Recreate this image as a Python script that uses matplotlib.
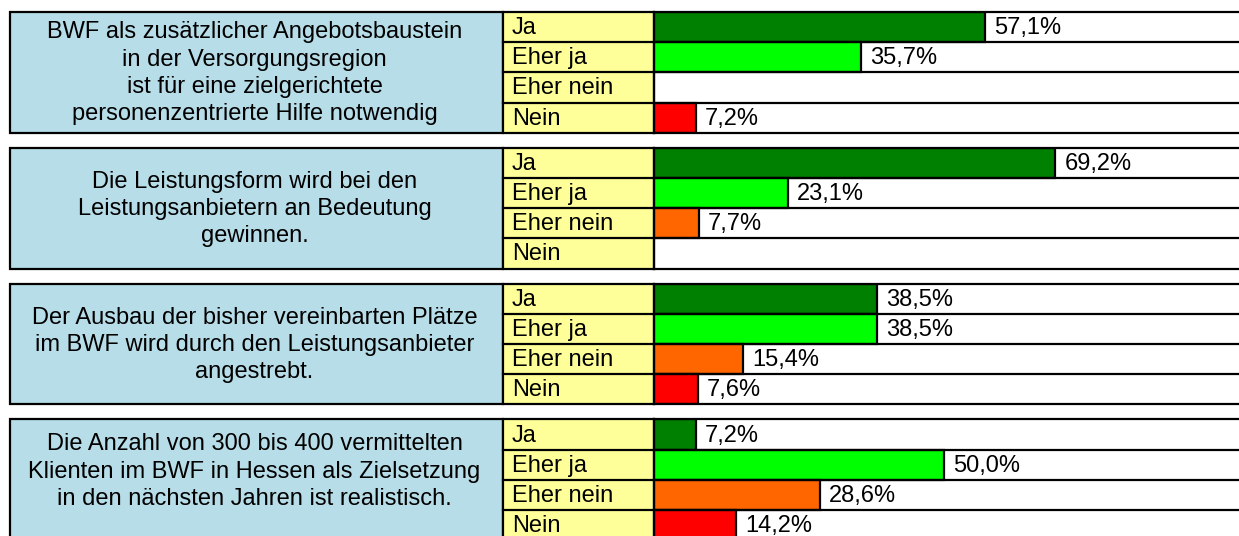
import matplotlib

matplotlib.use("Agg")
import matplotlib.pyplot as plt
from matplotlib.patches import Rectangle

plt.rcParams["font.family"] = ["Liberation Sans", "DejaVu Sans"]

# four survey statements, each answered on the same 4-step scale (percent)
statements = [
    "BWF als zusätzlicher Angebotsbaustein\nin der Versorgungsregion\nist für eine zielgerichtete\npersonenzentrierte Hilfe notwendig",
    "Die Leistungsform wird bei den\nLeistungsanbietern an Bedeutung\ngewinnen.",
    "Der Ausbau der bisher vereinbarten Plätze\nim BWF wird durch den Leistungsanbieter\nangestrebt.",
    "Die Anzahl von 300 bis 400 vermittelten\nKlienten im BWF in Hessen als Zielsetzung\nin den nächsten Jahren ist realistisch.",
]
answers = ["Ja", "Eher ja", "Eher nein", "Nein"]
shares = [
    [57.1, 35.7, 0.0, 7.2],
    [69.2, 23.1, 7.7, 0.0],
    [38.5, 38.5, 15.4, 7.6],
    [7.2, 50.0, 28.6, 14.2],
]
answer_colors = ["#008000", "#00FF00", "#FF6600", "#FF0000"]

BLUE, YELLOW = "#B7DDE8", "#FFFF99"
W, H = 1239, 536                 # output size in px (dpi 100)
X_BOX, X_YEL, X_BAR = 10, 503, 654
TOP0, PANEL_STEP, ROW_H = 12, 135.8, 30.2
PX_PER_PCT = 5.8
LW = 1.6
FS = 17

fig = plt.figure(figsize=(W / 100, H / 100), dpi=100)
bg = fig.add_axes([0, 0, 1, 1])
bg.set_xlim(0, W); bg.set_ylim(H, 0); bg.axis("off")

for k, (stmt, vals) in enumerate(zip(statements, shares)):
    top = TOP0 + k * PANEL_STEP
    ph = ROW_H * len(answers)
    bot = top + ph

    # statement box + answer column
    bg.add_patch(Rectangle((X_BOX, top), X_YEL - X_BOX, ph, fc=BLUE, ec="black", lw=LW))
    bg.add_patch(Rectangle((X_YEL, top), X_BAR - X_YEL, ph, fc=YELLOW, ec="black", lw=LW))
    ymid = (top + min(bot, H - 14)) / 2 + 1
    bg.text((X_BOX + X_YEL) / 2 - 2, ymid, stmt, ha="center", va="center",
            fontsize=FS, linespacing=1.31, color="black")
    for i, a in enumerate(answers):
        bg.text(X_YEL + 9, top + (i + 0.5) * ROW_H + 1, a, ha="left", va="center",
                fontsize=FS, color="black")
        if i:
            bg.plot([X_YEL, X_BAR], [top + i * ROW_H] * 2, color="black", lw=LW)

    # bar area
    ax = fig.add_axes([X_BAR / W, 1 - bot / H, (W - X_BAR) / W, ph / H])
    ax.set_xlim(0, (W - X_BAR) / PX_PER_PCT)
    ax.set_ylim(len(answers), 0)
    ax.axis("off")
    for i in range(len(answers) + 1):
        ax.axhline(i, color="black", lw=LW, clip_on=False)
    ax.axvline(0, color="black", lw=LW, clip_on=False)
    for i, (v, c) in enumerate(zip(vals, answer_colors)):
        if v <= 0:
            continue
        ax.barh(i + 0.5, v, height=1, color=c, edgecolor="black", lw=LW)
        ax.annotate(f"{v:.1f}%".replace(".", ","), (v, i + 0.5), xytext=(6.5, -0.8),
                    textcoords="offset points", ha="left", va="center",
                    fontsize=FS, color="black")

fig.savefig("out.png", dpi=100)
